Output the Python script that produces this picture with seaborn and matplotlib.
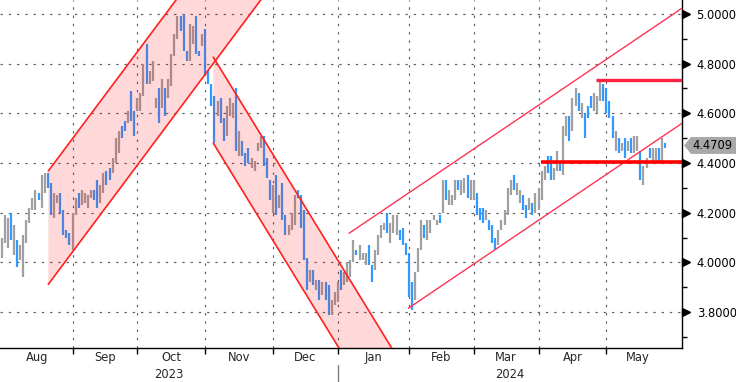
import numpy as np
import pandas as pd
import matplotlib
matplotlib.use('Agg')
import matplotlib.pyplot as plt
import matplotlib.transforms as mtransforms
from matplotlib.patches import Polygon
from matplotlib.ticker import MultipleLocator, FormatStrFormatter
import seaborn as sns

# trading days shown on the chart
dates = pd.bdate_range('2023-08-01', '2024-05-28')

# daily bar ranges, one row per month (Aug 2023 .. May 2024)
bar_low = [
    4.02, 4.08, 4.06, 4.09, 4.03, 3.98, 4.01, 3.94, 4.08, 4.16, 4.21, 4.21, 4.25, 4.22, 4.28, 4.30, 4.19, 4.18, 4.24, 4.20, 4.11, 4.10, 4.07,
    4.05, 4.19, 4.22, 4.23, 4.24, 4.22, 4.26, 4.25, 4.22, 4.24, 4.28, 4.31, 4.33, 4.36, 4.40, 4.44, 4.50, 4.53, 4.56, 4.57, 4.51,
    4.61, 4.61, 4.67, 4.72, 4.72, 4.73, 4.62, 4.56, 4.62, 4.59, 4.66, 4.71, 4.83, 4.90, 4.93, 4.85, 4.81, 4.81, 4.88, 4.84, 4.83, 4.87,
    4.75, 4.72, 4.63, 4.48, 4.59, 4.56, 4.49, 4.51, 4.59, 4.58, 4.45, 4.43, 4.43, 4.39, 4.40, 4.38, 4.37, 4.45, 4.46, 4.39, 4.34, 4.25,
    4.20, 4.19, 4.22, 4.17, 4.11, 4.11, 4.13, 4.15, 4.26, 4.14, 4.01, 3.89, 3.92, 3.91, 3.89, 3.85, 3.87, 3.85, 3.79, 3.79, 3.83,
    3.84, 3.89, 3.91, 3.92, 3.94, 4.00, 4.03, 4.01, 4.01, 3.99, 3.99, 3.92, 3.97, 4.03, 4.10, 4.13, 4.12, 4.08, 4.12, 4.11, 4.09, 4.07, 4.03,
    3.86, 3.81, 3.85, 3.96, 4.05, 4.10, 4.09, 4.12, 4.17, 4.15, 4.16, 4.20, 4.25, 4.23, 4.23, 4.25, 4.29, 4.27, 4.28, 4.26, 4.25,
    4.25, 4.19, 4.17, 4.16, 4.17, 4.13, 4.08, 4.05, 4.07, 4.13, 4.15, 4.19, 4.27, 4.29, 4.27, 4.24, 4.21, 4.18, 4.21, 4.19, 4.20,
    4.21, 4.25, 4.33, 4.36, 4.33, 4.33, 4.37, 4.37, 4.35, 4.51, 4.49, 4.53, 4.63, 4.61, 4.58, 4.50, 4.58, 4.62, 4.61, 4.60, 4.65, 4.65,
    4.60, 4.58, 4.50, 4.45, 4.44, 4.45, 4.42, 4.45, 4.44, 4.44, 4.45, 4.33, 4.31, 4.38, 4.42, 4.41, 4.41, 4.41, 4.41, 4.46,
]
bar_high = [
    4.10, 4.19, 4.18, 4.20, 4.15, 4.09, 4.07, 4.11, 4.17, 4.22, 4.26, 4.29, 4.28, 4.35, 4.36, 4.36, 4.32, 4.28, 4.27, 4.28, 4.21, 4.13, 4.12,
    4.20, 4.26, 4.28, 4.29, 4.28, 4.27, 4.29, 4.29, 4.33, 4.31, 4.36, 4.37, 4.38, 4.42, 4.50, 4.53, 4.55, 4.57, 4.61, 4.69, 4.61,
    4.66, 4.68, 4.80, 4.88, 4.77, 4.81, 4.66, 4.70, 4.74, 4.70, 4.74, 4.84, 4.92, 4.99, 4.99, 5.00, 4.85, 4.96, 4.95, 4.99, 4.85, 4.92,
    4.94, 4.77, 4.72, 4.67, 4.65, 4.66, 4.58, 4.63, 4.66, 4.64, 4.70, 4.53, 4.49, 4.44, 4.46, 4.42, 4.41, 4.48, 4.51, 4.51, 4.42, 4.33,
    4.31, 4.35, 4.27, 4.32, 4.19, 4.15, 4.20, 4.27, 4.29, 4.27, 4.21, 4.02, 3.97, 3.97, 3.93, 3.93, 3.92, 3.92, 3.91, 3.85, 3.88,
    3.92, 3.97, 3.96, 4.00, 4.01, 4.09, 4.05, 4.07, 4.04, 4.04, 4.07, 3.99, 4.05, 4.11, 4.15, 4.16, 4.20, 4.16, 4.19, 4.19, 4.13, 4.14, 4.08,
    4.04, 3.92, 3.96, 4.06, 4.17, 4.15, 4.17, 4.17, 4.19, 4.17, 4.19, 4.33, 4.33, 4.29, 4.27, 4.33, 4.33, 4.33, 4.34, 4.35, 4.33,
    4.33, 4.28, 4.22, 4.22, 4.21, 4.17, 4.15, 4.10, 4.13, 4.17, 4.21, 4.30, 4.33, 4.35, 4.32, 4.29, 4.27, 4.23, 4.26, 4.24, 4.28,
    4.30, 4.37, 4.39, 4.43, 4.43, 4.38, 4.45, 4.41, 4.55, 4.59, 4.59, 4.66, 4.70, 4.68, 4.64, 4.60, 4.63, 4.67, 4.68, 4.67, 4.74, 4.72,
    4.70, 4.65, 4.59, 4.53, 4.50, 4.48, 4.50, 4.49, 4.50, 4.51, 4.51, 4.45, 4.39, 4.42, 4.46, 4.46, 4.46, 4.46, 4.50, 4.48,
]
# b = blue (up day), g = grey (down day)
bar_dir = ("gggbgbggggggbggbbggbbbb" "ggbggggbbggbbgggbbgbb" "gggbgggbgbggggbbbggbbg"
           "bbbbgbbgggbgbbbggggbbb" "gbgbbgggbbbbgbgbgbbgg" "gbggggbgggbbggggbgggbbb"
           "bbgggbggggbgbgggbggbg" "gbbbgbbbgggggbggbbgbg" "gggbbggbggbggbgbbbgggb"
           "bbbgbgbgbggbggbggbgb")

last_value = 4.4709

# trend channels: start bar, upper/lower price at start, slope per bar
chan1_start, chan1_upper, chan1_lower, chan1_slope = 15.15, 4.368, 3.912, 0.01662
chan2_start, chan2_upper, chan2_lower, chan2_slope = 68.62, 4.826, 4.480, -0.02024
# rising channel without fill (bar, price) end points
chan3_upper_x, chan3_upper_y = [112.6, 220.5], [4.1175, 5.023]
chan3_lower_x, chan3_lower_y = [131.8, 220.5], [3.8157, 4.560]
# horizontal levels (price, first bar)
level_hi, level_hi_start = 4.736, 192.6
level_lo, level_lo_start = 4.403, 174.8

sns.set_style('white')
plt.rcParams['font.family'] = ['DejaVu Sans']

fig = plt.figure(figsize=(7.36, 3.82), dpi=100)
ax = fig.add_axes([0, 34 / 382, 682 / 736, 348 / 382])

n = len(dates)
idx = np.arange(n)
x_min, x_max = -0.5, 220.5
y_min, y_max = 3.656, 5.056

# month boundaries and label centres
month_key = dates.to_period('M')
month_start = [i for i in range(n) if i == 0 or month_key[i] != month_key[i - 1]]
month_end = month_start[1:] + [n]
month_names = [dates[i].strftime('%b') for i in month_start]

# grid
grid_kw = dict(color='#5e5e5e', lw=0.85, ls=(0, (2, 5)), zorder=1)
for y in np.arange(3.8, 5.01, 0.2):
    ax.axhline(y, **grid_kw)
for s in month_start[1:]:
    ax.axvline(s, **grid_kw)

# bars
colors = ['#3399ff' if d == 'b' else '#a0a0a0' for d in bar_dir]
ax.vlines(idx, bar_low, bar_high, colors=colors, lw=1.6, zorder=2)

# filled channels
def channel(start, upper, lower, slope, end):
    xs = np.array([start, end])
    up = upper + slope * (xs - start)
    lo = lower + slope * (xs - start)
    ax.fill_between(xs, lo, up, color='#ff0000', alpha=0.15, lw=0, zorder=3)
    sns.lineplot(x=xs, y=up, ax=ax, color='#ff2020', lw=1.2, zorder=4)
    sns.lineplot(x=xs, y=lo, ax=ax, color='#ff2020', lw=1.2, zorder=4)

channel(chan1_start, chan1_upper, chan1_lower, chan1_slope, 100)
channel(chan2_start, chan2_upper, chan2_lower, chan2_slope, 140)

sns.lineplot(x=chan3_upper_x, y=chan3_upper_y, ax=ax, color='#ff3355', lw=1.0, zorder=4)
sns.lineplot(x=chan3_lower_x, y=chan3_lower_y, ax=ax, color='#ff3355', lw=1.0, zorder=4)

ax.hlines(level_hi, level_hi_start, x_max, color='#ff1f40', lw=2.4, zorder=5)
ax.hlines(level_lo, level_lo_start, x_max, color='#ff0000', lw=2.6, zorder=5)

ax.set_xlim(x_min, x_max)
ax.set_ylim(y_min, y_max)

# spines
for side in ['left', 'top']:
    ax.spines[side].set_visible(False)
ax.spines['right'].set_color('black')
ax.spines['bottom'].set_color('black')
ax.spines['right'].set_linewidth(1.0)
ax.spines['bottom'].set_linewidth(1.0)

# y axis on the right
ax.yaxis.tick_right()
ax.yaxis.set_major_locator(MultipleLocator(0.2))
ax.yaxis.set_minor_locator(MultipleLocator(0.1))
ax.yaxis.set_major_formatter(FormatStrFormatter('%.4f'))
ax.tick_params(axis='y', which='major', length=0, pad=10.5, labelsize=8.3, colors='black')
ax.tick_params(axis='y', which='minor', length=3.5, width=1, color='black', right=True, left=False)
ax.tick_params(axis='y', which='both', left=False)

tri_tr = mtransforms.blended_transform_factory(ax.transAxes, ax.transData) + \
    mtransforms.ScaledTranslation(4 / 100, 0, fig.dpi_scale_trans)
majors = np.arange(3.8, 5.01, 0.2)
ax.plot([1.0] * len(majors), majors, ls='none', marker='>', ms=5.5, color='black',
        transform=tri_tr, clip_on=False, zorder=6)

# x axis: month ticks and labels
ax.set_xticks(month_start[1:])
ax.set_xticklabels([])
ax.tick_params(axis='x', which='major', length=4, width=1, color='black', direction='out', bottom=True)
lab_tr = mtransforms.blended_transform_factory(ax.transData, ax.transAxes)
for s, e, name in zip(month_start, month_end, month_names):
    ax.text((s + e) / 2, -9.5 / 348, name, transform=lab_tr, ha='center', va='center', fontsize=8.3)

year_split = month_start[month_names.index('Jan')]
ax.text((x_min + year_split) / 2, -27 / 348, '2023', transform=lab_tr, ha='center', va='center', fontsize=8.3)
ax.text((year_split + x_max) / 2, -27 / 348, '2024', transform=lab_tr, ha='center', va='center', fontsize=8.3)
ax.plot([year_split, year_split], [-17 / 348, -34 / 348], transform=lab_tr, color='#808080',
        lw=1, clip_on=False)

# last value marker
box_tr = mtransforms.blended_transform_factory(fig.transFigure, ax.transData)
h = 0.034
pts = [(684 / 736, last_value), (691 / 736, last_value + h), (1.0, last_value + h),
       (1.0, last_value - h), (691 / 736, last_value - h)]
fig.patches.append(Polygon(pts, closed=True, transform=box_tr, facecolor='#a8a8a8',
                           edgecolor='none', figure=fig))
fig.text(712 / 736, last_value, f'{last_value:.4f}', transform=box_tr, ha='center',
         va='center', fontsize=8.3, color='black')

fig.savefig('out.png', dpi=100)
